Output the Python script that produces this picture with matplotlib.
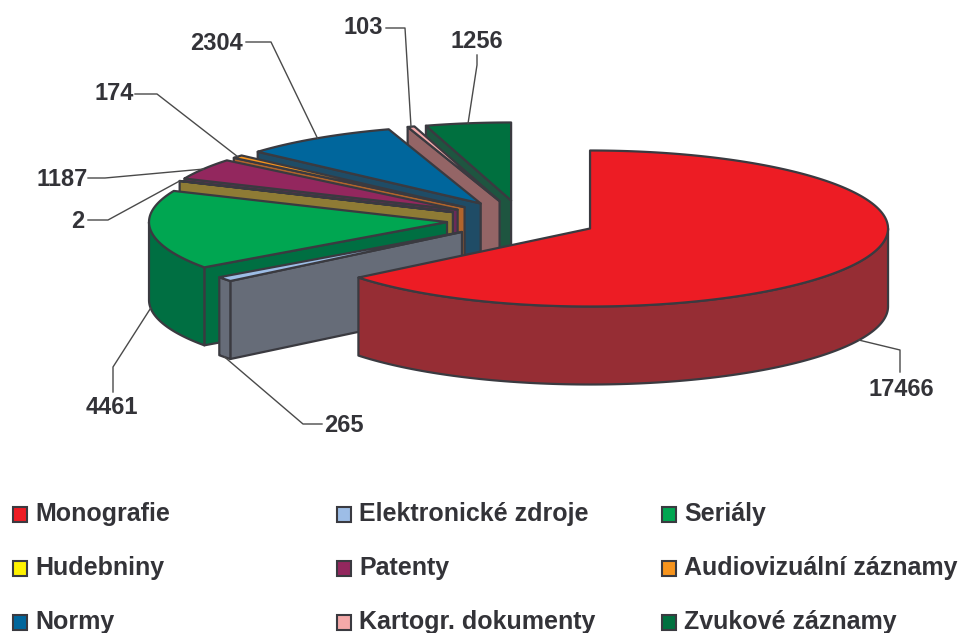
# plot.py - exploded 3D style pie, drawn in pixel coords
import numpy as np
import matplotlib
matplotlib.use('Agg')
import matplotlib.pyplot as plt
from matplotlib.patches import Rectangle

names = ['Monografie', 'Elektronické zdroje', 'Seriály', 'Hudebniny', 'Patenty',
         'Audiovizuální záznamy', 'Normy', 'Kartogr. dokumenty', 'Zvukové záznamy']
values = [17466, 265, 4461, 2, 1187, 174, 2304, 103, 1256]
top_colors = ['#ED1C24', '#9DBDE6', '#00A651', '#FFF200', '#93275E',
              '#F7941D', '#00669C', '#F4A9A9', '#00703F']
side_colors = ['#962D34', '#666C78', '#006F42', '#8E7B35', '#6A2A58',
               '#B0642C', '#1F4C66', '#946566', '#1E5540']

# text x, text y, elbow points of the leader line going back from the label
label_layout = [
    (901, 389, [(900, 372), (900, 350)]),
    (344, 425, [(322, 424), (303, 424)]),
    (112, 408, [(113, 392), (113, 367)]),
    (78, 221, [(88, 220), (108, 220)]),
    (62, 179, [(88, 178), (105, 178)]),
    (114, 94, [(135, 94), (157, 94)]),
    (217, 43, [(246, 42), (271, 42)]),
    (363, 28, [(386, 28), (405, 28)]),
    (477, 42, [(477, 55), (477, 65)]),
]

CX, CY = 522, 220
RX, RY = 298, 78
DEPTH = 78
EXPLODE = 0.253
EDGE = '#3A3A40'
TEXT = '#333338'
LW = 1.6

plt.rcParams['font.family'] = ['Liberation Sans', 'DejaVu Sans']

fig = plt.figure(figsize=(9.62, 6.33), dpi=100)
ax = fig.add_axes([0, 0, 1, 1])
ax.set_xlim(0, 962)
ax.set_ylim(633, 0)
ax.axis('off')


def rim(apex, t):
    # t in radians, clockwise from 12 o'clock
    return apex[0] + RX * np.sin(t), apex[1] - RY * np.cos(t)


def poly(xs, ys, color):
    ax.fill(xs, ys, facecolor=color, edgecolor=EDGE, linewidth=LW, joinstyle='round')


edges = np.cumsum([0] + values) / sum(values) * 2 * np.pi
apexes = []
for i in range(len(values)):
    mid = (edges[i] + edges[i + 1]) / 2
    apexes.append((CX + EXPLODE * RX * np.sin(mid), CY - EXPLODE * RY * np.cos(mid)))

# back to front, the slices happen to overlap in reverse data order
for i in reversed(range(len(values))):
    t0, t1 = edges[i], edges[i + 1]
    ap = apexes[i]

    # cut faces, only the ones turned to the viewer
    if np.sin(t0) < -1e-6:
        x, y = rim(ap, t0)
        poly([ap[0], x, x, ap[0]], [ap[1], y, y + DEPTH, ap[1] + DEPTH], side_colors[i])
    if np.sin(t1) > 1e-6:
        x, y = rim(ap, t1)
        poly([ap[0], x, x, ap[0]], [ap[1], y, y + DEPTH, ap[1] + DEPTH], side_colors[i])

    # outer wall, front half of the ellipse only
    a0, a1 = max(t0, np.pi / 2), min(t1, 3 * np.pi / 2)
    if a1 > a0:
        tt = np.linspace(a0, a1, 120)
        x, y = rim(ap, tt)
        poly(np.r_[x, x[::-1]], np.r_[y, y[::-1] + DEPTH], side_colors[i])

    # top
    tt = np.linspace(t0, t1, 200)
    x, y = rim(ap, tt)
    poly(np.r_[ap[0], x], np.r_[ap[1], y], top_colors[i])

# leader lines and value labels
for i, (tx, ty, elbows) in enumerate(label_layout):
    mid = (edges[i] + edges[i + 1]) / 2
    x, y = rim(apexes[i], mid)
    if np.cos(mid) < 0:
        y += DEPTH
    pts = elbows + [(x, y)]
    ax.plot([p[0] for p in pts], [p[1] for p in pts], color='#4A4A4A', lw=1.0, zorder=5)
    ax.text(tx, ty, str(values[i]), ha='center', va='center', fontsize=17,
            fontweight='bold', color=TEXT, zorder=6)

# legend, 3 x 3 grid filled row by row
col_x = [13, 337, 662]
row_y = [514, 568, 622]
for i, name in enumerate(names):
    lx = col_x[i % 3]
    ly = row_y[i // 3]
    ax.add_patch(Rectangle((lx, ly - 7), 14.5, 14.5, facecolor=top_colors[i], edgecolor=EDGE, linewidth=1.5))
    ax.text(lx + 22, ly + 7, name, ha='left', va='baseline', fontsize=18, fontweight='bold', color=TEXT)

fig.savefig('out.png', dpi=100)
